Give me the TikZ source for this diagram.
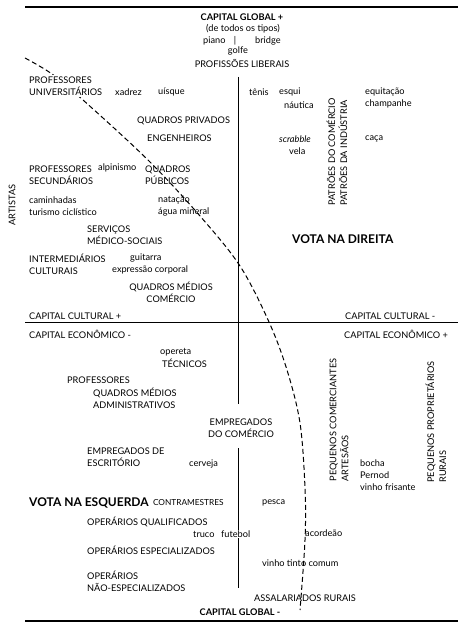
\documentclass[tikz,border=0pt]{standalone}
\usepackage{fontspec}
\setmainfont{Lato}
\usetikzlibrary{positioning}

\begin{document}
\begin{tikzpicture}[x=1pt, y=-1pt,
                    txt/.style={inner sep=0pt, anchor=west, align=left, font=\fontsize{9.2}{12}\selectfont},
                    ctxt/.style={txt, anchor=center, align=center},
                    headtxt/.style={ctxt, font=\fontsize{9.2}{12}\selectfont\bfseries},
                    votetxt/.style={txt, font=\fontsize{12}{14}\selectfont\bfseries},
                    uptxt/.style={txt, anchor=center, rotate=90},
                    axisline/.style={line width=0.8pt},
                    borderline/.style={line width=1.1pt},
                    divide/.style={line width=1pt, dash pattern=on 5pt off 3pt},]
    \useasboundingbox (0,0) rectangle (474,628);
    % lines
    \coordinate (topl) at (25,7);    \coordinate (topr) at (458,7);
    \coordinate (midl) at (25,322);  \coordinate (midr) at (458,322);
    \coordinate (botl) at (25,621);  \coordinate (botr) at (458,621);
    \coordinate (vtop) at (238,77);  \coordinate (vcut) at (238,404);
    \coordinate (vgo) at (238,448);  \coordinate (vbot) at (238,588);
    \draw[borderline] (topl) -- (topr);
    \draw[borderline] (botl) -- (botr);
    \draw[axisline] (midl) -- (midr);
    \draw[axisline] (vtop) -- (vcut);
    \draw[axisline] (vgo) -- (vbot);
    \draw[divide] plot[smooth, tension=0.55] coordinates {(25,58) (52,74) (83,100) (148,160) (200,216) (240,266) (269,322) (287,370) (300,423) (305,488) (305,540) (300,610)};
    % nodes, top
    \node[headtxt]  (globalplus)  at (242,17)   {CAPITAL GLOBAL +};
    \node[ctxt]     (detodos)     at (243,29)   {(de todos os tipos)};
    \node[txt]      (piano)       at (203,41)   {piano};
    \node[ctxt]     (pipe)        at (235,41)   {|};
    \node[txt]      (bridge)      at (255,41)   {bridge};
    \node[ctxt]     (golfe)       at (238,51)   {golfe};
    \node[ctxt]     (proflib)     at (242,63)   {PROFISSÕES LIBERAIS};
    % nodes, upper left
    \node[txt, fill=white, inner sep=2pt] (profuni) at (27,86) {PROFESSORES\\UNIVERSITÁRIOS};
    \node[txt]      (xadrez)      at (115,92)   {xadrez};
    \node[txt]      (uisque)      at (158,92)   {uísque};
    \node[txt]      (quadpriv)    at (137,121)  {QUADROS PRIVADOS};
    \node[txt]      (engenh)      at (147,138)  {ENGENHEIROS};
    \node[txt]      (profsec)     at (29,175)   {PROFESSORES\\SECUNDÁRIOS};
    \node[txt]      (alpin)       at (98,168)   {alpinismo};
    \node[txt]      (quadpub)     at (145,175)  {QUADROS\\PÚBLICOS};
    \node[txt]      (caminh)      at (29,206)   {caminhadas\\turismo ciclístico};
    \node[txt]      (natacao)     at (158,206)  {natação\\água mineral};
    \node[txt]      (servicos)    at (87,235)   {SERVIÇOS\\MÉDICO-SOCIAIS};
    \node[txt]      (intermed)    at (29,264)   {INTERMEDIÁRIOS\\CULTURAIS};
    \node[txt]      (guitarra)    at (130,258)  {guitarra};
    \node[txt]      (expressao)   at (112,270)  {expressão corporal};
    \node[ctxt]     (quadmedcom)  at (171,292)  {QUADROS MÉDIOS\\COMÉRCIO};
    \node[uptxt]    (artistas)    at (12,205)   {ARTISTAS};
    % nodes, upper right
    \node[txt]      (tenis)       at (249,92)   {tênis};
    \node[txt]      (esqui)       at (279,92)   {esqui};
    \node[txt]      (nautica)     at (284,105)  {náutica};
    \node[txt]      (equit)       at (365,98)   {equitação\\champanhe};
    \node[txt]      (scrabble)    at (279,139)  {\itshape scrabble};
    \node[txt]      (vela)        at (289,151)  {vela};
    \node[txt]      (caca)        at (365,139)  {caça};
    \node[uptxt]    (patroes)     at (337,152)  {PATRÕES DO COMÉRCIO\\PATRÕES DA INDÚSTRIA};
    \node[votetxt]  (direita)     at (292,239)  {VOTA NA DIREITA};
    % nodes, middle
    \node[txt]      (cultplus)    at (29,316)   {CAPITAL CULTURAL +};
    \node[txt]      (econminus)   at (29,334)   {CAPITAL ECONÔMICO -};
    \node[txt]      (cultminus)   at (345,316)  {CAPITAL CULTURAL -};
    \node[txt]      (econplus)    at (344,334)  {CAPITAL ECONÔMICO +};
    % nodes, lower left
    \node[txt]      (opereta)     at (160,352)  {opereta};
    \node[txt]      (tecnicos)    at (162,363)  {TÉCNICOS};
    \node[txt]      (profs)       at (67,380)   {PROFESSORES};
    \node[txt]      (quadadm)     at (93,398)   {QUADROS MÉDIOS\\ADMINISTRATIVOS};
    \node[ctxt]     (emprcom)     at (241,428)  {EMPREGADOS\\DO COMÉRCIO};
    \node[txt]      (emprescr)    at (87,457)   {EMPREGADOS DE\\ESCRITÓRIO};
    \node[txt]      (cerveja)     at (189,464)  {cerveja};
    \node[votetxt]  (esquerda)    at (29,503)   {VOTA NA ESQUERDA};
    \node[txt, font=\fontsize{8.3}{10}\selectfont] (contram) [right=4pt of esquerda] {CONTRAMESTRES};
    \node[txt]      (opqual)      at (87,522)   {OPERÁRIOS QUALIFICADOS};
    \node[txt]      (truco)       at (193,534)  {truco};
    \node[txt, fill=white, inner sep=1pt] (futebol) at (220,534) {futebol};
    \node[txt]      (opesp)       at (87,550)   {OPERÁRIOS ESPECIALIZADOS};
    \node[txt]      (opnao)       at (87,581)   {OPERÁRIOS\\NÃO-ESPECIALIZADOS};
    \node[headtxt]  (globalminus) at (240,612)  {CAPITAL GLOBAL -};
    % nodes, lower right
    \node[txt]      (pesca)       at (262,503)  {pesca};
    \node[txt]      (acordeao)    at (305,533)  {acordeão};
    \node[txt]      (vinhotinto)  at (262,563)  {vinho tinto comum};
    \node[txt]      (assal)       at (254,598)  {ASSALARIADOS RURAIS};
    \node[uptxt]    (pequcom)     at (339,420)  {PEQUENOS COMERCIANTES\\ARTESÃOS};
    \node[txt]      (bocha)       at (360,475)  {bocha\\Pernod\\vinho frisante};
    \node[uptxt]    (peqprop)     at (436,422)  {PEQUENOS PROPRIETÁRIOS\\RURAIS};
\end{tikzpicture}
\end{document}
